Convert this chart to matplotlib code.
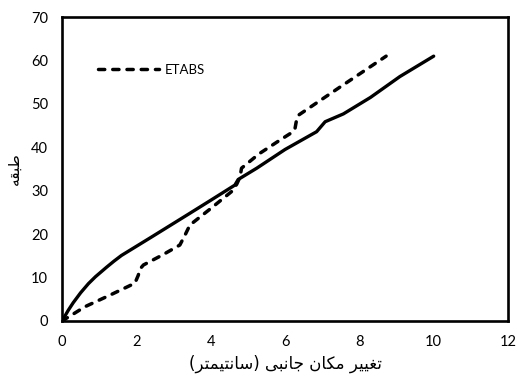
import matplotlib
matplotlib.use("Agg")
import matplotlib.pyplot as plt
from matplotlib.lines import Line2D

# Data
solid_x = [0, 0.17, 0.3, 0.5, 0.71, 0.9, 1.2, 1.4, 1.6, 2.0, 2.4, 3.4, 4.0, 4.65, 4.74, 5.24, 6.0, 6.85, 7.08, 7.57, 8.3, 9.09, 10.0]
solid_y = [0, 2.5, 4.2, 6.5, 8.6, 10.2, 12.4, 13.8, 15.1, 17.2, 19.3, 24.6, 27.8, 31.3, 32.6, 35.2, 39.5, 43.6, 45.9, 47.7, 51.5, 56.3, 61.0]

etabs_x = [0, 0.62, 1.3, 1.96, 2.05, 2.1, 2.19, 2.7, 3.17, 3.31, 3.44, 4.0, 4.56, 4.7, 4.79, 4.83, 5.3, 5.87, 6.2, 6.27, 6.31, 6.36, 7.5, 8.72]
etabs_y = [0, 3.3, 6.0, 8.7, 10.5, 12.0, 12.9, 15.2, 17.5, 19.8, 22.1, 25.9, 29.8, 31.5, 33.2, 35.2, 38.5, 41.7, 43.5, 44.4, 46.3, 47.4, 54.0, 61.0]

x_ticks = [0, 2, 4, 6, 8, 10, 12]
y_ticks = [0, 10, 20, 30, 40, 50, 60, 70]
legend_label = "ETABS"

# Persian labels, shaped manually into presentation forms (visual order)
def visual(shaped_logical):
    s = shaped_logical[::-1]
    return s.translate(str.maketrans("()", ")("))

# تغییر مکان جانبی (سانتیمتر)
xlabel_logical = ("\uFE97\uFED0\uFBFF\uFBFF\uFEAE" + " " +
                  "\uFEE3\uFB91\uFE8E\uFEE5" + " " +
                  "\uFE9F\uFE8E\uFEE7\uFE92\uFBFD" + " " +
                  "(" + "\uFEB3\uFE8E\uFEE7\uFE98\uFBFF\uFEE4\uFE98\uFEAE" + ")")
# طبقه
ylabel_logical = "\uFEC3\uFE92\uFED8\uFEEA"

xlabel_text = visual(xlabel_logical)
ylabel_text = visual(ylabel_logical)

fig = plt.figure(figsize=(5.17, 3.80), dpi=100)
ax = fig.add_axes([0.12, 0.1553, 0.8626, 0.7997])

dash = (0, (1.8, 2.3))
ax.plot(solid_x, solid_y, color="black", lw=2.4, solid_capstyle="round",
        solid_joinstyle="round")
ax.plot(etabs_x, etabs_y, color="black", lw=2.5, linestyle=dash,
        dash_capstyle="round", dash_joinstyle="round")

ax.set_xlim(0, 12)
ax.set_ylim(0, 70)
ax.set_xticks(x_ticks)
ax.set_yticks(y_ticks)
tickfont = ["Lato", "DejaVu Sans"]
ax.set_xticklabels([str(v) for v in x_ticks], family=tickfont, fontsize=10.5)
ax.set_yticklabels([str(v) for v in y_ticks], family=tickfont, fontsize=10.5)
ax.tick_params(axis="both", length=0, pad=10)
for sp in ax.spines.values():
    sp.set_linewidth(1.9)
    sp.set_color("black")

ax.set_xlabel(xlabel_text, family=["DejaVu Sans"], fontsize=12, labelpad=4)
ax.set_ylabel(ylabel_text, family=["DejaVu Sans"], fontsize=11, labelpad=7)

handle = Line2D([0], [0], color="black", lw=2.5, linestyle=dash,
                dash_capstyle="round")
ax.legend([handle], [legend_label], loc="center left",
          bbox_to_anchor=(0.055, 0.826), frameon=False, handlelength=4.6,
          handletextpad=0.4, prop={"family": tickfont, "size": 9.5})

fig.savefig("out.png", dpi=100)
